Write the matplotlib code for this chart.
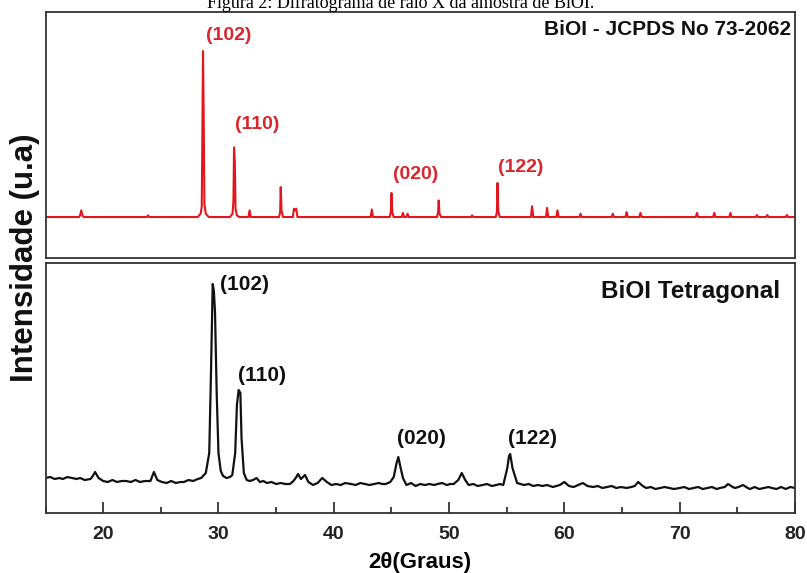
import matplotlib
matplotlib.use("Agg")
import matplotlib.pyplot as plt
from matplotlib.ticker import MultipleLocator

# ---------------- data ----------------
# Reference pattern BiOI - JCPDS 73-2062 (relative intensity, %)
red_2theta = [15.0, 17.9, 18.0, 18.1, 18.2, 18.3, 23.8, 23.9, 24.0,
              28.2, 28.45, 28.55, 28.6, 28.66, 28.72, 28.78, 28.9, 29.15,
              31.0, 31.22, 31.3, 31.35, 31.42, 31.48, 31.6, 31.8,
              32.6, 32.7, 32.8, 35.25, 35.35, 35.4, 35.47, 35.6,
              36.45, 36.55, 36.65, 36.75, 36.85, 43.2, 43.3, 43.4,
              44.85, 44.95, 45.0, 45.07, 45.2, 45.9, 46.0, 46.1, 46.3, 46.4, 46.5,
              48.95, 49.05, 49.1, 49.17, 49.3, 51.9, 52.0, 52.1,
              54.05, 54.15, 54.2, 54.27, 54.4, 57.1, 57.2, 57.3,
              58.4, 58.5, 58.6, 59.3, 59.4, 59.5, 61.3, 61.4, 61.5,
              64.1, 64.2, 64.3, 65.3, 65.4, 65.5, 66.5, 66.6, 66.7,
              71.4, 71.5, 71.6, 72.9, 73.0, 73.1, 74.3, 74.4, 74.5,
              76.6, 76.7, 76.8, 77.5, 77.6, 77.7, 79.2, 79.3, 79.4, 80.0]
red_intensity = [0, 0, 1, 4, 1, 0, 0, 1, 0,
                 0, 2, 6, 47, 100, 60, 8, 2, 0,
                 0, 2, 10, 42, 33, 5, 1, 0,
                 0, 4, 0, 0, 3, 18, 4, 0,
                 0, 5, 4, 5, 0, 0, 4.5, 0,
                 0, 3, 14.5, 3, 0, 0, 2.5, 0, 0, 2, 0,
                 0, 3, 10, 2, 0, 0, 1, 0,
                 0, 3, 20.5, 3, 0, 0, 6.5, 0,
                 0, 5.5, 0, 0, 4, 0, 0, 2, 0,
                 0, 2, 0, 0, 3, 0, 0, 2.5, 0,
                 0, 2.5, 0, 0, 2.5, 0, 0, 2.5, 0,
                 0, 1.2, 0, 0, 1.2, 0, 0, 1.2, 0, 0]

# Measured pattern, BiOI tetragonal (a.u.)
blk_2theta = [15.0, 15.4, 15.8, 16.2, 16.5, 16.9, 17.3, 17.7, 18.0, 18.4, 18.9,
              19.1, 19.3, 19.6, 20.0, 20.4, 20.8, 21.2, 21.6, 22.0, 22.4, 22.8,
              23.2, 23.6, 24.1, 24.4, 24.7, 25.1, 25.5, 25.9, 26.3, 26.7, 27.0,
              27.4, 27.8, 28.2, 28.5, 28.9, 29.2, 29.35, 29.5, 29.6, 29.7, 29.85,
              30.0, 30.2, 30.4, 30.7, 31.0, 31.2, 31.45, 31.6, 31.75, 31.9, 32.0,
              32.2, 32.45, 32.7, 33.0, 33.3, 33.6, 33.9, 34.2, 34.6, 35.0, 35.4,
              35.8, 36.2, 36.5, 36.7, 36.9, 37.15, 37.5, 37.8, 38.2, 38.6, 39.0,
              39.4, 39.8, 40.2, 40.6, 41.0, 41.5, 41.9, 42.3, 42.7, 43.1, 43.5,
              43.9, 44.2, 44.5, 44.9, 45.2, 45.45, 45.6, 45.8, 46.0, 46.3, 46.7,
              47.1, 47.5, 47.9, 48.3, 48.7, 49.0, 49.4, 49.8, 50.1, 50.4, 50.8,
              51.1, 51.4, 51.7, 52.1, 52.5, 52.9, 53.3, 53.7, 54.1, 54.4, 54.7,
              55.05, 55.2, 55.3, 55.5, 55.9, 56.2, 56.5, 56.9, 57.3, 57.7, 58.1,
              58.5, 59.0, 59.3, 59.6, 60.0, 60.4, 60.8, 61.2, 61.6, 62.0, 62.5,
              62.9, 63.3, 63.7, 64.1, 64.5, 64.9, 65.4, 65.8, 66.1, 66.4, 66.8,
              67.1, 67.5, 67.9, 68.3, 68.7, 69.1, 69.5, 70.0, 70.4, 70.8, 71.2,
              71.6, 72.0, 72.4, 72.8, 73.2, 73.5, 73.9, 74.2, 74.6, 74.8, 75.1,
              75.5, 75.9, 76.1, 76.5, 76.9, 77.3, 77.7, 78.0, 78.4, 78.8, 79.2,
              79.6, 80.0]
blk_intensity = [35, 36, 34, 35, 34, 36, 35, 34, 35, 33, 34,
                 37, 41, 35, 32, 31, 33, 31, 32, 32, 31, 33,
                 31, 32, 32, 41, 33, 31, 30, 32, 30, 31, 31,
                 33, 32, 34, 35, 40, 60, 140, 229, 222, 201, 118,
                 60, 42, 37, 35, 36, 38, 60, 108, 123, 120, 75,
                 40, 33, 32, 33, 35, 31, 32, 30, 31, 29, 30,
                 29, 29, 32, 35, 39, 34, 38, 31, 28, 30, 35,
                 31, 28, 29, 28, 30, 29, 28, 30, 29, 28, 29,
                 30, 29, 29, 31, 36, 50, 56, 45, 35, 28, 30,
                 27, 29, 28, 29, 28, 29, 30, 28, 29, 29, 33,
                 40, 33, 28, 29, 27, 28, 29, 27, 28, 29, 28,
                 45, 57, 59, 45, 30, 29, 28, 29, 27, 28, 27,
                 28, 26, 27, 28, 31, 27, 26, 28, 30, 27, 26,
                 27, 25, 26, 27, 25, 26, 25, 26, 27, 31, 27,
                 25, 26, 24, 25, 26, 25, 24, 25, 26, 24, 25,
                 26, 24, 25, 26, 24, 25, 26, 29, 26, 25, 26,
                 28, 25, 24, 26, 24, 25, 26, 25, 24, 26, 24,
                 26, 25]

hkl_labels = ["(102)", "(110)", "(020)", "(122)"]
red_label_x = [30.9, 33.4, 47.1, 56.2]
red_label_y = [109.6, 56.0, 25.9, 30.1]
blk_label_x = [32.3, 33.8, 47.6, 57.2]
blk_label_y = [229, 138, 75, 75]

x_ticks = [20, 30, 40, 50, 60, 70, 80]

# ---------------- figure ----------------
plt.rcParams['font.family'] = ['Liberation Sans', 'DejaVu Sans']
fig = plt.figure(figsize=(8.07, 5.73), dpi=100)

L, W = 0.0564, 0.9287
ax1 = fig.add_axes([L, 0.5497, W, 0.4293])
ax2 = fig.add_axes([L, 0.1047, W, 0.4363])

red = '#e3161d'
lab_red = '#d8262c'
spine_c = '#333333'

ax1.plot(red_2theta, red_intensity, color=red, lw=1.5, solid_joinstyle='round')
ax1.set_xlim(15, 80)
ax1.set_ylim(-24.7, 123.5)
ax1.set_xticks([])
ax1.set_yticks([])
for x, y, t in zip(red_label_x, red_label_y, hkl_labels):
    ax1.text(x, y, t, color=lab_red, fontsize=14, fontweight='bold',
             ha='center', va='center')
ax1.text(0.995, 0.927, 'BiOI - JCPDS No 73-2062', transform=ax1.transAxes,
         fontsize=15, fontweight='bold', ha='right', va='center', color='#111111')

ax2.plot(blk_2theta, blk_intensity, color='#111111', lw=1.6, solid_joinstyle='round')
ax2.set_xlim(15, 80)
ax2.set_ylim(0, 250)
ax2.set_yticks([])
ax2.set_xticks(x_ticks)
ax2.xaxis.set_minor_locator(MultipleLocator(5))
ax2.tick_params(axis='x', which='major', direction='in', length=8, width=1.2,
                labelsize=14, pad=9, colors='#222222')
ax2.tick_params(axis='x', which='minor', direction='in', length=4, width=1.2,
                colors='#222222')
for lbl in ax2.get_xticklabels():
    lbl.set_fontweight('bold')
for x, y, t in zip(blk_label_x, blk_label_y, hkl_labels):
    ax2.text(x, y, t, color='#111111', fontsize=15, fontweight='bold',
             ha='center', va='center')
ax2.text(0.98, 0.888, 'BiOI Tetragonal', transform=ax2.transAxes,
         fontsize=17.5, fontweight='bold', ha='right', va='center', color='#111111')
ax2.set_xlabel('2θ(Graus)', fontsize=16, fontweight='bold', labelpad=7)

for ax in (ax1, ax2):
    for s in ax.spines.values():
        s.set_color(spine_c)
        s.set_linewidth(1.3)

fig.text(0.031, 0.55, 'Intensidade (u.a)', rotation=90, fontsize=22.5,
         fontweight='bold', ha='center', va='center', color='#111111')
fig.text(0.497, 1 - 8 / 573, 'Figura 2: Difratograma de raio X da amostra de BiOI.',
         family='Liberation Serif', fontsize=13, ha='center', va='baseline')

fig.savefig('out.png', dpi=100)
